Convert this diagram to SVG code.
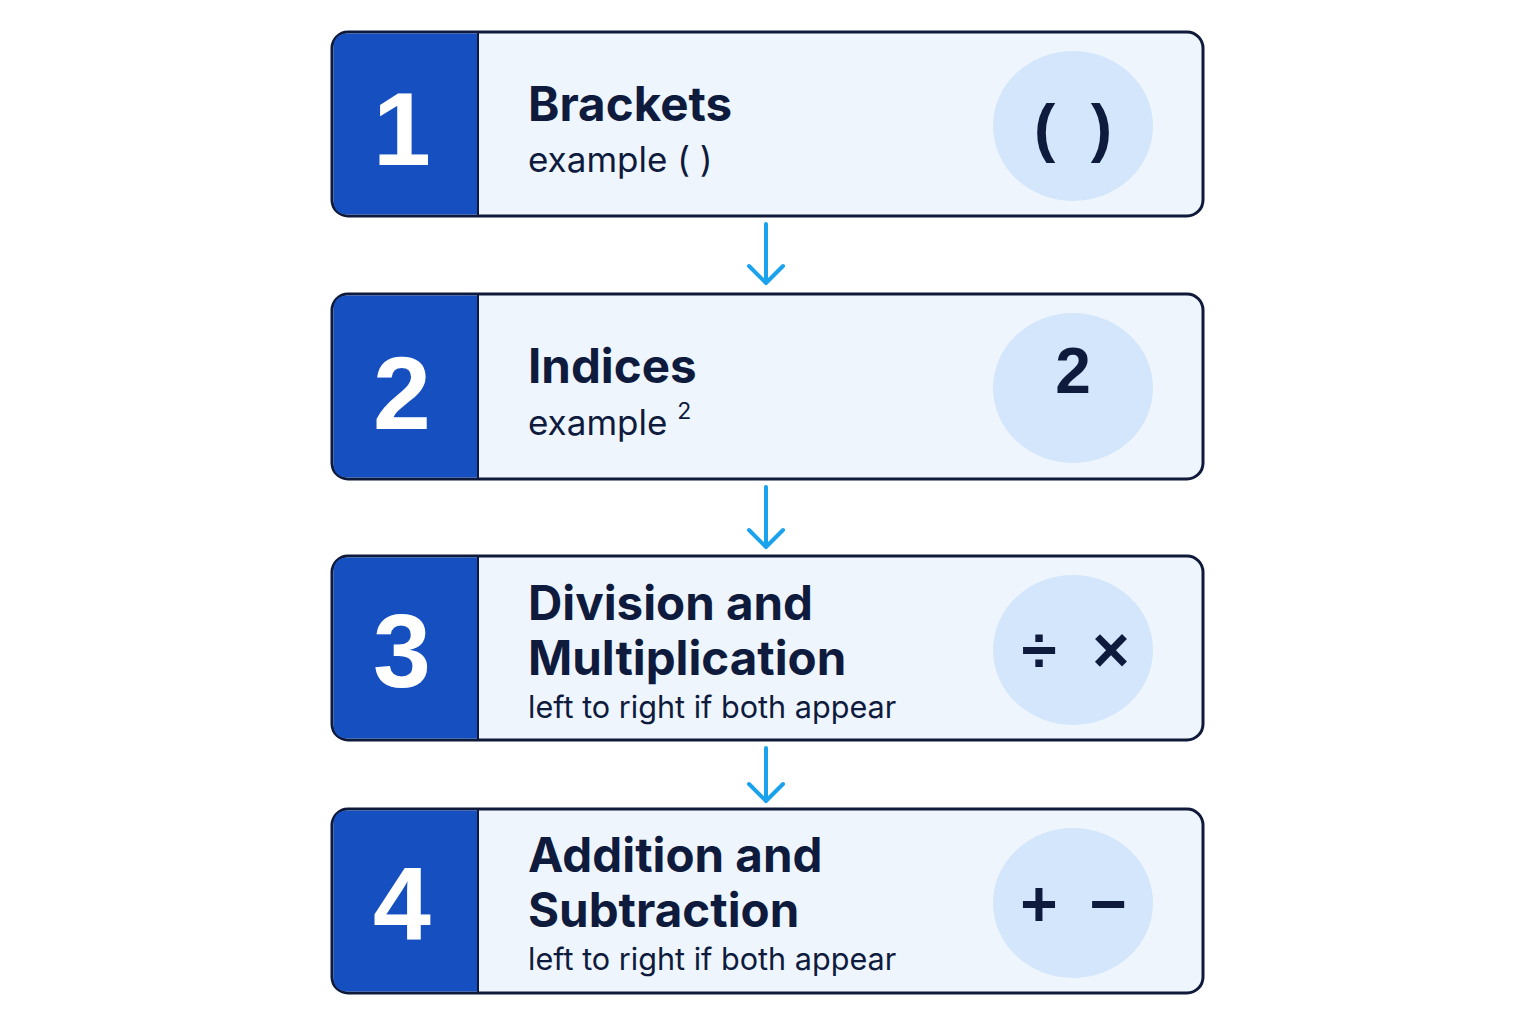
<svg xmlns="http://www.w3.org/2000/svg" width="1536" height="1024" viewBox="0 0 1536 1024">
<style>
.box{fill:#eef5fd;stroke:#0f1a3a;stroke-width:3}
.num{fill:#1650c0}
.n{font-family:"Liberation Sans",Arial,sans-serif;font-weight:bold;font-size:104px;fill:#fff;text-anchor:middle}
.t{font-family:Inter,"Liberation Sans",sans-serif;font-weight:bold;font-size:47.5px;fill:#0f1b3d}
.s{font-family:Inter,"Liberation Sans",sans-serif;font-size:35px;fill:#0f1b3d}
.s2{font-family:Inter,"Liberation Sans",sans-serif;font-size:30.6px;fill:#0f1b3d}
.c{fill:#d3e6fb}
.sym{font-family:"Liberation Sans",Arial,sans-serif;font-size:64px;fill:#0f1b3d;text-anchor:middle;font-weight:bold}
.a{stroke:#1aa3ec;stroke-width:4;fill:none;stroke-linecap:round;stroke-linejoin:round}
</style>
<rect width="1536" height="1024" fill="#fff"/>
<g id="node1">
<rect class="box" x="332" y="32" width="871" height="184" rx="16"/>
<path class="num" d="M348 33.5 H478 V214.5 H348 Q333.5 214.5 333.5 200 V48 Q333.5 33.5 348 33.5Z"/>
<line x1="478" y1="33" x2="478" y2="215" stroke="#0f1a3a" stroke-width="2"/>
<text class="n" x="402" y="165">1</text>
<text class="t" x="528" y="121">Brackets</text>
<text class="s" x="528" y="172">example ( )</text>
<ellipse class="c" cx="1073" cy="126" rx="80" ry="75"/>
<text class="sym" x="1073" y="150" font-weight="normal" font-size="76" xml:space="preserve">(  )</text>
</g>
<g id="node2">
<rect class="box" x="332" y="294" width="871" height="185" rx="16"/>
<path class="num" d="M348 295.5 H478 V477.5 H348 Q333.5 477.5 333.5 463 V310 Q333.5 295.5 348 295.5Z"/>
<line x1="478" y1="295" x2="478" y2="478" stroke="#0f1a3a" stroke-width="2"/>
<text class="n" x="402" y="429">2</text>
<text class="t" x="528" y="383">Indices</text>
<text class="s" x="528" y="435">example <tspan font-size="23" dy="-16">2</tspan></text>
<ellipse class="c" cx="1073" cy="388" rx="80" ry="75"/>
<text class="sym" x="1073" y="393" font-weight="normal" font-size="50">2</text>
</g>
<g id="node3">
<rect class="box" x="332" y="556" width="871" height="184" rx="16"/>
<path class="num" d="M348 557.5 H478 V738.5 H348 Q333.5 738.5 333.5 724 V572 Q333.5 557.5 348 557.5Z"/>
<line x1="478" y1="557" x2="478" y2="739" stroke="#0f1a3a" stroke-width="2"/>
<text class="n" x="402" y="687">3</text>
<text class="t" x="528" y="620">Division and</text>
<text class="t" x="528" y="675">Multiplication</text>
<text class="s2" x="528" y="718">left to right if both appear</text>
<ellipse class="c" cx="1073" cy="650" rx="80" ry="75"/>
<text class="sym" x="1039" y="672">÷</text>
<text class="sym" x="1111" y="672">×</text>
</g>
<g id="node4">
<rect class="box" x="332" y="809" width="871" height="184" rx="16"/>
<path class="num" d="M348 810.5 H478 V991.5 H348 Q333.5 991.5 333.5 977 V825 Q333.5 810.5 348 810.5Z"/>
<line x1="478" y1="810" x2="478" y2="992" stroke="#0f1a3a" stroke-width="2"/>
<text class="n" x="402" y="940">4</text>
<text class="t" x="528" y="872">Addition and</text>
<text class="t" x="528" y="927">Subtraction</text>
<text class="s2" x="528" y="970">left to right if both appear</text>
<ellipse class="c" cx="1073" cy="903" rx="80" ry="75"/>
<text class="sym" x="1039" y="926">+</text>
<text class="sym" x="1108" y="926">−</text>
</g>
<g id="connectors">
<path class="a" d="M766 224 V282 M749 266 L766 283 L783 266"/>
<path class="a" d="M766 487 V546 M749 530 L766 547 L783 530"/>
<path class="a" d="M766 748 V800 M749 784 L766 801 L783 784"/>
</g>
</svg>
